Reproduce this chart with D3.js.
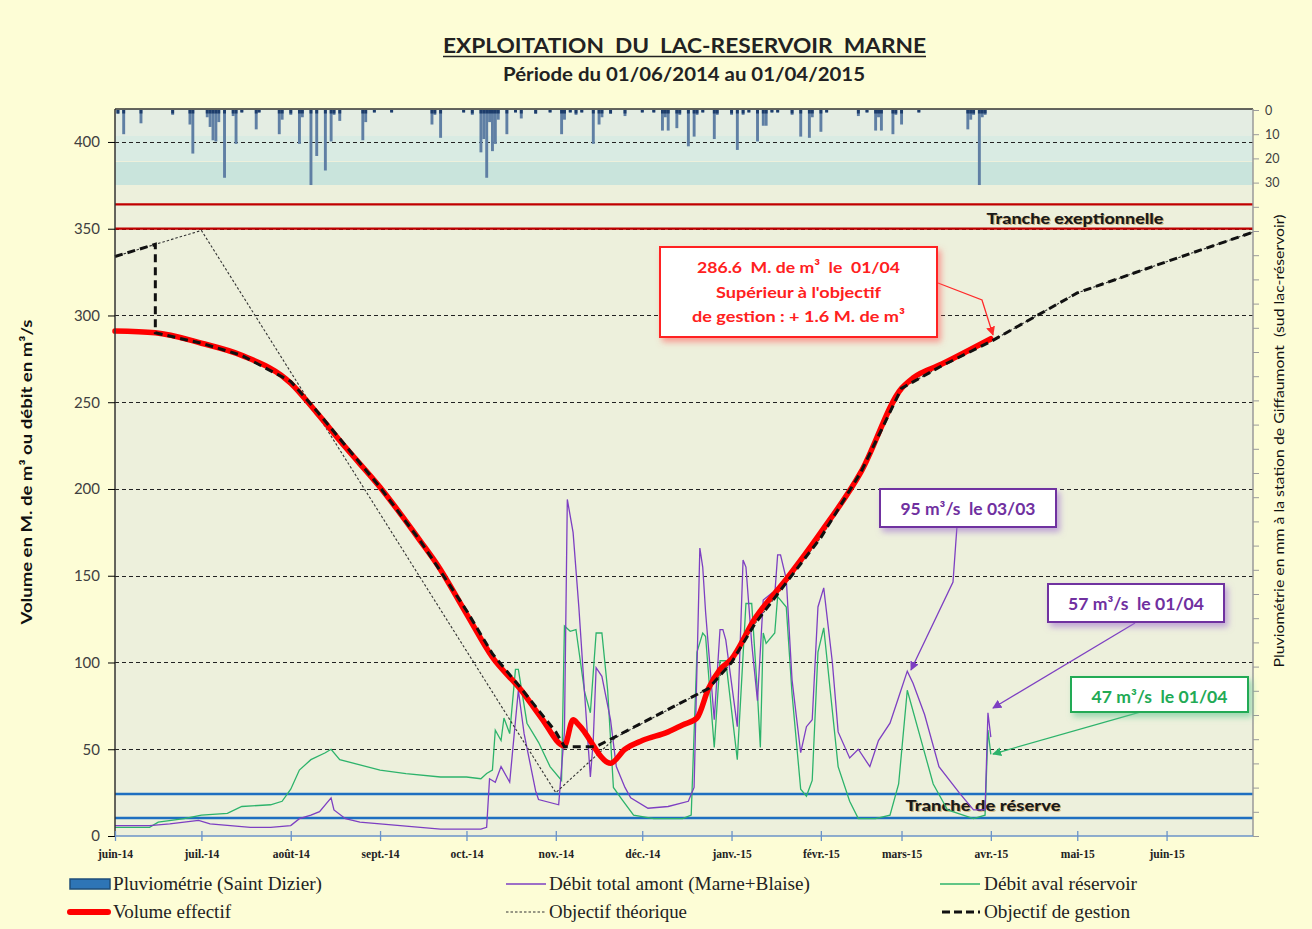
<!DOCTYPE html>
<html lang="fr">
<head>
<meta charset="UTF-8">
<title>Lac-réservoir Marne</title>
<style>
  body { margin: 0; background: #fdfdd6; }
  svg { display: block; }
</style>
</head>
<body>
<script src="https://d3js.org/d3.v7.min.js"></script>
<script>
// ---- données ----
const monthTicks = ['2014-06-01','2014-07-01','2014-08-01','2014-09-01','2014-10-01','2014-11-01','2014-12-01',
  '2015-01-01','2015-02-01','2015-03-01','2015-04-01','2015-05-01','2015-06-01'];
const monthLabels = ['juin-14','juil.-14','août-14','sept.-14','oct.-14','nov.-14','déc.-14',
  'janv.-15','févr.-15','mars-15','avr.-15','mai-15','juin-15'];
const yTicks = [0, 50, 100, 150, 200, 250, 300, 350, 400];
const rainTicks = [0, 10, 20, 30];

// volume effectif (M. m3)
const volumeDates = ['2014-06-01','2014-06-15','2014-07-01','2014-07-15','2014-08-01','2014-08-10','2014-08-20',
  '2014-09-01','2014-09-15','2014-09-21','2014-10-01','2014-10-10','2014-10-20','2014-10-27','2014-11-04',
  '2014-11-07','2014-11-09','2014-11-20','2014-11-25','2014-12-01','2014-12-10','2014-12-15','2014-12-20',
  '2014-12-24','2014-12-28','2015-01-01','2015-01-09','2015-01-20','2015-02-01','2015-02-15','2015-03-01',
  '2015-03-05','2015-03-15','2015-04-01'];
const volumeValues = [291, 290, 284, 277, 261, 244, 224, 201, 170, 156, 128, 103, 84, 68, 52,
  67, 64, 42, 50, 55, 60, 64, 68, 85, 96, 102, 125, 148, 175, 210, 258, 264, 272, 286.6];

// objectif de gestion
const gestionDates = ['2014-06-01','2014-06-15','2014-06-15','2014-07-01','2014-07-15','2014-08-01','2014-08-10',
  '2014-08-20','2014-09-01','2014-09-15','2014-10-01','2014-10-10','2014-10-20','2014-11-01','2014-11-04',
  '2014-11-15','2014-12-24','2015-01-01','2015-01-09','2015-01-20','2015-02-01','2015-02-15','2015-03-01',
  '2015-03-15','2015-04-01','2015-05-01','2015-06-01','2015-07-01'];
const gestionValues = [334, 341, 290, 284, 277, 262, 245, 225, 201, 170, 130, 105, 85, 60, 51.5,
  51.5, 85, 100, 122, 146, 172, 210, 258, 271, 285, 313, 331, 348];

// objectif théorique
const theoDates = ['2014-06-01','2014-07-01','2014-11-01','2014-11-22','2014-12-24','2015-01-01','2015-01-09',
  '2015-01-20','2015-02-01','2015-02-15','2015-03-01','2015-03-15','2015-04-01','2015-05-01','2015-06-01','2015-07-01'];
const theoValues = [334, 349, 25, 57, 85, 100, 122, 146, 172, 210, 258, 271, 285, 313, 331, 348];

// débit total amont (Marne + Blaise), m3/s
const amontDates = ['2014-06-01','2014-06-13','2014-06-20','2014-06-25','2014-06-30','2014-07-04','2014-07-11',
  '2014-07-18','2014-07-25','2014-08-01','2014-08-04','2014-08-08','2014-08-11','2014-08-15','2014-08-16',
  '2014-08-20','2014-08-25','2014-09-01','2014-09-08','2014-09-15','2014-09-22','2014-09-29','2014-10-06',
  '2014-10-08','2014-10-09','2014-10-11','2014-10-13','2014-10-16','2014-10-19','2014-10-21','2014-10-25',
  '2014-10-26','2014-11-02','2014-11-04','2014-11-05','2014-11-07','2014-11-09','2014-11-11','2014-11-13',
  '2014-11-14','2014-11-15','2014-11-17','2014-11-20','2014-11-22','2014-11-25','2014-11-27','2014-12-03',
  '2014-12-10','2014-12-17','2014-12-19','2014-12-21','2014-12-22','2014-12-23','2014-12-26','2014-12-28',
  '2014-12-29','2014-12-30','2015-01-03','2015-01-05','2015-01-06','2015-01-08','2015-01-10','2015-01-12',
  '2015-01-15','2015-01-16','2015-01-17','2015-01-18','2015-01-20','2015-01-22','2015-01-25','2015-01-27',
  '2015-01-29','2015-01-31','2015-02-02','2015-02-05','2015-02-07','2015-02-11','2015-02-14','2015-02-18',
  '2015-02-21','2015-02-25','2015-02-28','2015-03-03','2015-03-05','2015-03-09','2015-03-14','2015-03-21',
  '2015-03-26','2015-03-30','2015-03-31','2015-04-01'];
const amontValues = [6, 6, 7, 8, 9, 7, 6, 5, 5, 6, 10, 12, 14, 22, 15, 10, 8, 7, 6, 5, 4, 4, 4,
  5, 33, 31, 40, 31, 84, 59, 26, 21, 18, 60, 194, 175, 132, 82, 34, 55, 97, 92, 67, 40, 28, 22, 16,
  17, 20, 28, 166, 155, 129, 67, 119, 119, 113, 63, 159, 155, 111, 78, 136, 140, 139, 162, 162, 148,
  90, 48, 63, 67, 132, 143, 100, 60, 45, 50, 40, 55, 65, 80, 95, 88, 70, 40, 25, 15, 15, 71, 57];

// débit aval réservoir, m3/s
const avalDates = ['2014-06-01','2014-06-13','2014-06-16','2014-06-25','2014-07-01','2014-07-10','2014-07-15',
  '2014-07-25','2014-07-29','2014-08-01','2014-08-04','2014-08-08','2014-08-13','2014-08-15','2014-08-18',
  '2014-08-25','2014-09-01','2014-09-10','2014-09-22','2014-10-01','2014-10-06','2014-10-08','2014-10-10',
  '2014-10-11','2014-10-13','2014-10-14','2014-10-16','2014-10-18','2014-10-19','2014-10-22','2014-10-26',
  '2014-10-30','2014-11-03','2014-11-04','2014-11-06','2014-11-08','2014-11-11','2014-11-13','2014-11-15',
  '2014-11-17','2014-11-19','2014-11-21','2014-11-24','2014-11-28','2014-12-05','2014-12-15','2014-12-18',
  '2014-12-20','2014-12-22','2014-12-23','2014-12-26','2014-12-28','2014-12-30','2015-01-03','2015-01-06',
  '2015-01-08','2015-01-10','2015-01-11','2015-01-12','2015-01-13','2015-01-16','2015-01-17','2015-01-20',
  '2015-01-22','2015-01-25','2015-01-27','2015-01-29','2015-01-31','2015-02-02','2015-02-07','2015-02-11',
  '2015-02-14','2015-02-20','2015-02-25','2015-02-28','2015-03-03','2015-03-07','2015-03-12','2015-03-17',
  '2015-03-26','2015-03-30','2015-03-31','2015-04-01'];
const avalValues = [5, 5, 8, 10, 12, 13, 17, 18, 20, 27, 38, 44, 48, 50, 44, 41, 38, 36, 34, 34, 33,
  36, 38, 61, 55, 68, 59, 96, 96, 65, 54, 40, 32, 121, 118, 119, 83, 71, 117, 117, 84, 28, 21, 12, 10,
  10, 12, 106, 117, 115, 51, 101, 101, 44, 134, 134, 82, 51, 117, 111, 117, 138, 132, 82, 27, 23, 32,
  106, 120, 40, 20, 10, 10, 12, 30, 84, 60, 30, 15, 10, 12, 61, 47];

// pluviométrie journalière (mm)
const rainDates = ['2014-06-02','2014-06-04','2014-06-10','2014-06-21','2014-06-27','2014-06-28','2014-07-03',
  '2014-07-04','2014-07-05','2014-07-06','2014-07-07','2014-07-09','2014-07-12','2014-07-13','2014-07-15',
  '2014-07-20','2014-07-21','2014-07-28','2014-07-29','2014-08-01','2014-08-04','2014-08-05','2014-08-08',
  '2014-08-10','2014-08-13','2014-08-15','2014-08-16','2014-08-18','2014-08-26','2014-08-27','2014-08-30',
  '2014-09-05','2014-09-19','2014-09-20','2014-09-22','2014-09-30','2014-10-03','2014-10-06','2014-10-07',
  '2014-10-08','2014-10-09','2014-10-10','2014-10-11','2014-10-12','2014-10-15','2014-10-18','2014-10-20',
  '2014-10-25','2014-10-30','2014-11-03','2014-11-04','2014-11-06','2014-11-08','2014-11-10','2014-11-14',
  '2014-11-16','2014-11-17','2014-11-20','2014-11-25','2014-12-01','2014-12-05','2014-12-08','2014-12-09',
  '2014-12-10','2014-12-13','2014-12-14','2014-12-17','2014-12-19','2014-12-20','2014-12-22','2014-12-26',
  '2014-12-27','2015-01-01','2015-01-03','2015-01-05','2015-01-07','2015-01-10','2015-01-12','2015-01-13',
  '2015-01-15','2015-01-17','2015-01-22','2015-01-25','2015-01-28','2015-01-29','2015-02-01','2015-02-03',
  '2015-02-14','2015-02-17','2015-02-20','2015-02-21','2015-02-22','2015-02-26','2015-02-27','2015-03-01',
  '2015-03-07','2015-03-24','2015-03-25','2015-03-26','2015-03-28','2015-03-29','2015-03-30'];
const rainMm = [1.5, 10, 5.5, 2, 6, 18, 3, 7, 12.5, 13, 5, 28, 2.5, 14, 1, 8, 1, 10, 4, 2, 14, 3, 31,
  19, 25, 13, 2, 4.5, 12.5, 5, 1, 1, 6, 2, 11.5, 1, 2, 17.5, 12, 28, 5, 17, 14, 4, 10, 1, 3.5, 1.5, 1,
  10, 4, 1, 2, 1, 14, 6, 3, 1.5, 2.5, 1, 1, 8.5, 3, 8.5, 7.5, 2, 15, 11, 2, 1, 12, 2, 2, 16.5, 2, 1,
  13, 6.5, 6.5, 1, 1, 2, 11, 11.5, 3, 9, 1, 2.5, 1, 8.5, 3, 8.5, 10, 2, 6, 1, 8, 4, 2, 31, 3, 2];

// ---- mise en page ----
const width = 1312, height = 929;
const L = 115, R = 1253, T = 109, B = 836;
const parse = d3.timeParse('%Y-%m-%d');
const serif = '"Liberation Serif", "Times New Roman", serif';
const sans = 'Lato, "Open Sans", sans-serif';

const svg = d3.select('body').append('svg')
  .attr('width', width).attr('height', height);

const defs = svg.append('defs');
[['shRed', '#ff6060'], ['shPurple', '#a070d0'], ['shGreen', '#60c890']].forEach(function (s) {
  defs.append('filter').attr('id', s[0]).attr('x', '-20%').attr('y', '-30%').attr('width', '140%').attr('height', '170%')
    .append('feDropShadow').attr('dx', 3).attr('dy', 4).attr('stdDeviation', 3)
    .attr('flood-color', s[1]).attr('flood-opacity', 0.6);
});
[['arRed', '#ff2a2a'], ['arPurple', '#7d3fc2'], ['arGreen', '#2db36b']].forEach(function (a) {
  defs.append('marker').attr('id', a[0]).attr('viewBox', '0 0 10 10').attr('refX', 9).attr('refY', 5)
    .attr('markerWidth', 7).attr('markerHeight', 7).attr('orient', 'auto')
    .append('path').attr('d', 'M0,0 L10,5 L0,10 z').attr('fill', a[1]);
});

svg.append('rect').attr('width', width).attr('height', height).attr('fill', '#fdfdd6');

const x = d3.scaleTime().domain([parse('2014-06-01'), parse('2015-07-01')]).range([L, R]);
const y = d3.scaleLinear().domain([0, 419]).range([B, T]);
const yRain = d3.scaleLinear().domain([0, 300]).range([T + 1, B]);

// fond du graphique
svg.append('rect').attr('x', L).attr('y', T).attr('width', R - L).attr('height', B - T).attr('fill', '#edf0dc');
svg.append('rect').attr('x', L).attr('y', T).attr('width', R - L).attr('height', 27).attr('fill', '#e4ede3');
svg.append('rect').attr('x', L).attr('y', T + 27).attr('width', R - L).attr('height', 25).attr('fill', '#d9ebe3');
svg.append('rect').attr('x', L).attr('y', T + 53).attr('width', R - L).attr('height', 23).attr('fill', '#c9e4dc');

// grille pointillée
svg.append('g').selectAll('line').data(yTicks.slice(1)).enter().append('line')
  .attr('x1', L).attr('x2', R)
  .attr('y1', function (d) { return Math.round(y(d)) + 0.5; })
  .attr('y2', function (d) { return Math.round(y(d)) + 0.5; })
  .attr('stroke', '#222').attr('stroke-width', 1.2).attr('stroke-dasharray', '4,3');

// barres de pluie
const rain = rainDates.map(function (d, i) { return { date: parse(d), mm: rainMm[i] }; });
const bars = svg.append('g');
bars.selectAll('rect.b').data(rain).enter().append('rect')
  .attr('x', function (d) { return x(d.date) - 1.4; })
  .attr('y', T + 1)
  .attr('width', 2.9)
  .attr('height', function (d) { return yRain(d.mm) - yRain(0); })
  .attr('fill', '#5f7fa4');
bars.selectAll('rect.t').data(rain).enter().append('rect')
  .attr('x', function (d) { return x(d.date) - 1.4; })
  .attr('y', T + 1)
  .attr('width', 2.9)
  .attr('height', function (d) { return Math.min(3.5, yRain(d.mm) - yRain(0)); })
  .attr('fill', '#1d3d6b');

// tranches
svg.append('line').attr('x1', L).attr('x2', R).attr('y1', y(364)).attr('y2', y(364))
  .attr('stroke', '#c00000').attr('stroke-width', 2.2);
svg.append('line').attr('x1', L).attr('x2', R).attr('y1', y(350)).attr('y2', y(350))
  .attr('stroke', '#c00000').attr('stroke-width', 2.2);
svg.append('line').attr('x1', L).attr('x2', R).attr('y1', y(24.2)).attr('y2', y(24.2))
  .attr('stroke', '#1f6fc0').attr('stroke-width', 2.6);
svg.append('line').attr('x1', L).attr('x2', R).attr('y1', y(10.4)).attr('y2', y(10.4))
  .attr('stroke', '#1f6fc0').attr('stroke-width', 2.6);

function label(t, cx, cy, size, len) {
  [[1.2, '#c9a060', 0.7], [0, '#1a1a1a', 1]].forEach(function (s) {
    svg.append('text').attr('x', cx + s[0]).attr('y', cy + s[0]).attr('text-anchor', 'middle')
      .attr('font-family', sans).attr('font-weight', 900).attr('font-size', size)
      .attr('textLength', len).attr('lengthAdjust', 'spacingAndGlyphs')
      .attr('fill', s[1]).attr('opacity', s[2]).text(t);
  });
}
label('Tranche exeptionnelle', 1075, 224, 15, 177);
label('Tranche de réserve', 983, 811, 15, 155);

// courbes
function series(dates, values) {
  return dates.map(function (d, i) { return { date: parse(d), v: values[i] }; });
}
const line = d3.line().x(function (d) { return x(d.date); }).y(function (d) { return y(d.v); });

svg.append('path').datum(series(avalDates, avalValues)).attr('d', line)
  .attr('fill', 'none').attr('stroke', '#2db36b').attr('stroke-width', 1.3);
svg.append('path').datum(series(amontDates, amontValues)).attr('d', line)
  .attr('fill', 'none').attr('stroke', '#7d3fc2').attr('stroke-width', 1.3);
svg.append('path').datum(series(theoDates, theoValues)).attr('d', line)
  .attr('fill', 'none').attr('stroke', '#333').attr('stroke-width', 1.1).attr('stroke-dasharray', '2.5,2');
svg.append('path').datum(series(volumeDates, volumeValues)).attr('d', line.curve(d3.curveMonotoneX))
  .attr('fill', 'none').attr('stroke', '#ff0000').attr('stroke-width', 5.5)
  .attr('stroke-linejoin', 'round').attr('stroke-linecap', 'round');
line.curve(d3.curveLinear);
svg.append('path').datum(series(gestionDates, gestionValues)).attr('d', line)
  .attr('fill', 'none').attr('stroke', '#111').attr('stroke-width', 3).attr('stroke-dasharray', '8,5');

// axes
svg.append('line').attr('x1', L).attr('x2', R).attr('y1', T).attr('y2', T).attr('stroke', '#333').attr('stroke-width', 1.5);
const yAxis = svg.append('g').attr('transform', 'translate(' + L + ',0)')
  .call(d3.axisLeft(y).tickValues(yTicks).tickSize(7).tickPadding(8));
yAxis.select('.domain').attr('stroke', '#333').attr('stroke-width', 1.5).attr('d', 'M0,' + T + 'V' + B);
yAxis.selectAll('text').attr('font-family', sans).attr('font-size', 15).attr('fill', '#404040');

const rAxis = svg.append('g').attr('transform', 'translate(' + R + ',0)')
  .call(d3.axisRight(yRain).tickValues(d3.range(0, 301, 10)).tickSize(6).tickPadding(6)
    .tickFormat(function (d) { return rainTicks.indexOf(d) >= 0 ? d : ''; }));
rAxis.select('.domain').attr('stroke', '#9a9a9a').attr('stroke-width', 1.5).attr('d', 'M0,' + T + 'V' + B);
rAxis.selectAll('line').attr('stroke', '#9a9a9a');
rAxis.selectAll('text').attr('font-family', sans).attr('font-size', 12.5).attr('fill', '#404040');

const xAxis = svg.append('g').attr('transform', 'translate(0,' + B + ')')
  .call(d3.axisBottom(x).tickValues(monthTicks.map(parse)).tickSize(5).tickPadding(9)
    .tickFormat(function (d, i) { return monthLabels[i]; }));
xAxis.select('.domain').attr('stroke', '#6a93c9').attr('stroke-width', 1.5).attr('d', 'M' + L + ',0H' + R);
xAxis.selectAll('.tick line').attr('stroke', '#6a93c9').attr('stroke-width', 1.3).attr('y1', -5).attr('y2', 5);
xAxis.selectAll('text').attr('font-family', serif).attr('font-weight', 'bold').attr('font-size', 11.5).attr('fill', '#222');

// titres
svg.append('text').attr('x', 684.5).attr('y', 53).attr('text-anchor', 'middle')
  .attr('font-family', sans).attr('font-weight', 'bold').attr('font-size', 20).attr('fill', '#222')
  .attr('textLength', 483).attr('lengthAdjust', 'spacingAndGlyphs')
  .attr('xml:space', 'preserve').text('EXPLOITATION  DU  LAC-RESERVOIR  MARNE');
svg.append('line').attr('x1', 443).attr('x2', 926).attr('y1', 56.5).attr('y2', 56.5)
  .attr('stroke', '#222').attr('stroke-width', 1.6);
svg.append('text').attr('x', 684).attr('y', 81).attr('text-anchor', 'middle')
  .attr('font-family', sans).attr('font-weight', 'bold').attr('font-size', 18).attr('fill', '#222')
  .attr('textLength', 362).attr('lengthAdjust', 'spacingAndGlyphs')
  .text('Période du 01/06/2014 au 01/04/2015');

svg.append('text').attr('transform', 'translate(32,472) rotate(-90)').attr('text-anchor', 'middle')
  .attr('font-family', sans).attr('font-weight', 'bold').attr('font-size', 15).attr('fill', '#111')
  .attr('textLength', 305).attr('lengthAdjust', 'spacingAndGlyphs')
  .text('Volume en M. de m³ ou débit en m³/s');
svg.append('text').attr('transform', 'translate(1284,441) rotate(-90)').attr('text-anchor', 'middle')
  .attr('font-family', sans).attr('font-size', 13.5).attr('fill', '#111')
  .attr('textLength', 453).attr('lengthAdjust', 'spacingAndGlyphs')
  .attr('xml:space', 'preserve').text('Pluviométrie en mm à la station de Giffaumont  (sud lac-réservoir)');

// annotations
function callout(x0, y0, w, h, lines, lens, color, shadow, size) {
  svg.append('rect').attr('x', x0).attr('y', y0).attr('width', w).attr('height', h)
    .attr('fill', '#fff').attr('stroke', color).attr('stroke-width', 2).attr('filter', 'url(#' + shadow + ')');
  lines.forEach(function (t, i) {
    svg.append('text').attr('x', x0 + w / 2).attr('y', y0 + 26 + i * 24.5).attr('text-anchor', 'middle')
      .attr('font-family', sans).attr('font-weight', 'bold').attr('font-size', size).attr('fill', color)
      .attr('textLength', lens[i]).attr('lengthAdjust', 'spacingAndGlyphs')
      .attr('xml:space', 'preserve').text(t);
  });
}
function arrow(pts, color, marker) {
  svg.append('path').attr('d', d3.line()(pts)).attr('fill', 'none').attr('stroke', color)
    .attr('stroke-width', 1.3).attr('marker-end', 'url(#' + marker + ')');
}
arrow([[938, 283], [982, 300], [993, 335]], '#ff2a2a', 'arRed');
callout(660, 247, 277, 90, ['286.6  M. de m³  le  01/04', "Supérieur à l'objectif", 'de gestion : + 1.6 M. de m³'],
  [203, 165, 213], '#ff2020', 'shRed', 16);
arrow([[957, 526], [953, 582], [911, 670]], '#7d3fc2', 'arPurple');
callout(880, 489, 176, 38, ['95 m³/s  le 03/03'], [135], '#7030a0', 'shPurple', 17);
arrow([[1135, 623], [993, 708]], '#7d3fc2', 'arPurple');
callout(1048, 584, 176, 38, ['57 m³/s  le 01/04'], [136], '#7030a0', 'shPurple', 17);
arrow([[1140, 712], [993, 754]], '#2db36b', 'arGreen');
callout(1071, 677, 177, 35, ['47 m³/s  le 01/04'], [136], '#22aa55', 'shGreen', 17);

// légende
const lg = svg.append('g').attr('font-family', serif).attr('font-size', 18).attr('fill', '#222');
lg.append('rect').attr('x', 70).attr('y', 879).attr('width', 40).attr('height', 10)
  .attr('fill', '#2e75b6').attr('stroke', '#1f4e79').attr('stroke-width', 1.5);
lg.append('line').attr('x1', 70).attr('x2', 108).attr('y1', 912).attr('y2', 912)
  .attr('stroke', '#ff0000').attr('stroke-width', 6).attr('stroke-linecap', 'round');
lg.append('line').attr('x1', 506).attr('x2', 546).attr('y1', 884).attr('y2', 884)
  .attr('stroke', '#7d3fc2').attr('stroke-width', 1.3);
lg.append('line').attr('x1', 506).attr('x2', 546).attr('y1', 912).attr('y2', 912)
  .attr('stroke', '#333').attr('stroke-width', 1.1).attr('stroke-dasharray', '2.5,2');
lg.append('line').attr('x1', 940).attr('x2', 980).attr('y1', 884).attr('y2', 884)
  .attr('stroke', '#2db36b').attr('stroke-width', 1.3);
lg.append('line').attr('x1', 942).attr('x2', 980).attr('y1', 912).attr('y2', 912)
  .attr('stroke', '#111').attr('stroke-width', 3).attr('stroke-dasharray', '8,4');
[['Pluviométrie (Saint Dizier)', 113, 890, 209], ['Volume effectif', 113, 918, 118],
 ['Débit total amont (Marne+Blaise)', 549, 890, 261], ['Objectif théorique', 549, 918, 138],
 ['Débit aval réservoir', 984, 890, 153], ['Objectif de gestion', 984, 918, 146]].forEach(function (d) {
  lg.append('text').attr('x', d[1]).attr('y', d[2])
    .attr('textLength', d[3]).attr('lengthAdjust', 'spacingAndGlyphs').text(d[0]);
});
</script>
</body>
</html>
